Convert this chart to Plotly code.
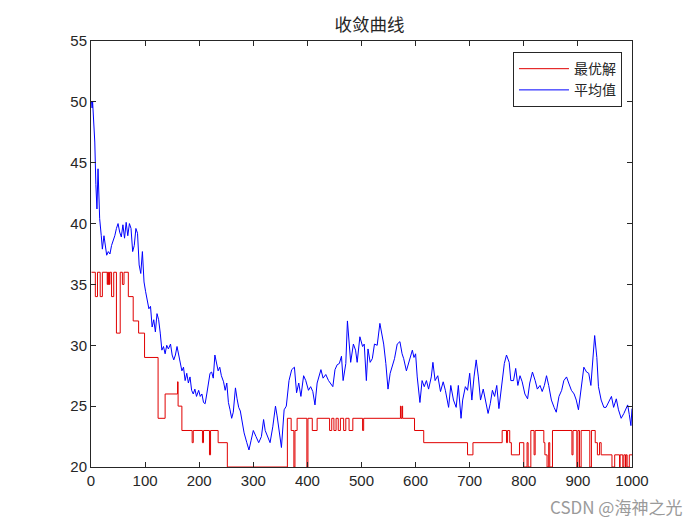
import plotly.graph_objects as go

# ---- data ----
avg_iter = [1, 2, 3, 5, 7, 9, 11, 13, 14, 16, 19, 21, 24, 26, 29, 32, 35, 38, 41, 44, 47, 50, 53, 56, 59,
            62, 65, 68, 71, 74, 77, 80, 83, 86, 89, 92, 95, 98, 101, 104, 107, 110, 113, 116, 119, 122, 125,
            128, 131, 134, 137, 140, 143, 147, 150, 153, 156, 159, 162, 165, 168, 171, 174, 177, 180, 183,
            186, 189, 192, 195, 199, 202, 205, 208, 211, 214, 217, 220, 223, 226, 229, 232, 235, 238, 241,
            245, 248, 251, 254, 257, 260, 263, 267, 270, 273, 276, 279, 283, 288, 292, 296, 300, 305, 310,
            315, 319, 322, 327, 331, 336, 341, 344, 349, 352, 357, 361, 366, 371, 376, 380, 384, 388, 393,
            397, 402, 406, 410, 414, 418, 425, 429, 434, 439, 443, 447, 451, 455, 459, 463, 466, 471, 474,
            477, 480, 485, 489, 492, 497, 502, 505, 509, 512, 516, 520, 524, 529, 534, 538, 541, 545, 549,
            553, 557, 561, 566, 571, 575, 578, 583, 587, 591, 594, 597, 600, 603, 608, 612, 616, 620, 624,
            629, 632, 636, 641, 646, 651, 655, 661, 665, 670, 675, 679, 684, 687, 692, 696, 700, 704, 708,
            712, 716, 720, 725, 729, 734, 738, 742, 746, 750, 754, 759, 764, 768, 773, 776, 781, 785, 789,
            793, 797, 802, 807, 811, 816, 821, 825, 830, 834, 838, 842, 846, 851, 856, 860, 865, 870, 874,
            879, 883, 888, 893, 897, 901, 906, 911, 916, 920, 924, 928, 931, 935, 938, 943, 948, 952, 957,
            962, 966, 971, 975, 980, 985, 989, 992, 995, 998, 1000]
avg_val = [50.0, 49.5, 50.0, 48.6, 46.7, 43.2, 41.2, 44.5, 42.9, 40.4, 39.0, 37.9, 39.0, 38.2, 37.4, 37.7,
           37.5, 38.2, 38.6, 39.0, 39.6, 40.0, 39.3, 38.9, 39.9, 38.8, 40.1, 39.0, 40.0, 39.6, 37.7, 38.2,
           39.6, 39.2, 36.6, 35.9, 37.7, 35.2, 34.4, 33.5, 33.0, 33.2, 31.5, 32.1, 31.1, 32.6, 32.1, 31.0,
           29.6, 29.9, 29.3, 30.0, 29.7, 30.1, 29.2, 28.8, 29.2, 29.9, 29.2, 28.5, 27.9, 28.2, 27.1, 27.7,
           26.9, 27.4, 26.3, 26.0, 26.4, 25.8, 26.3, 25.8, 26.0, 25.3, 25.2, 26.0, 27.1, 27.7, 27.8, 27.3,
           29.2, 28.5, 27.9, 28.2, 27.5, 27.0, 26.3, 26.9, 25.3, 24.7, 24.0, 24.5, 26.5, 25.6, 24.9, 24.6,
           23.9, 22.8, 22.0, 21.4, 22.2, 23.0, 22.5, 22.0, 22.5, 23.9, 23.0, 22.5, 22.0, 23.3, 25.0, 24.2,
           22.5, 21.6, 24.7, 25.0, 27.1, 28.0, 28.2, 26.1, 26.9, 25.8, 27.5, 27.1, 26.3, 26.6, 26.2, 25.1,
           26.9, 28.0, 27.3, 27.6, 27.1, 26.8, 26.6, 28.0, 28.4, 28.5, 29.1, 27.1, 28.5, 32.0, 30.1, 28.6,
           30.1, 29.6, 28.6, 30.7, 29.9, 30.1, 27.1, 29.7, 28.6, 28.9, 30.1, 30.0, 31.8, 30.7, 30.1, 28.5,
           26.4, 27.7, 28.4, 28.9, 30.1, 30.3, 29.3, 28.9, 27.9, 28.5, 29.0, 29.6, 29.0, 29.3, 27.4, 25.3,
           27.1, 26.6, 27.1, 26.4, 27.4, 28.6, 27.1, 27.5, 26.2, 27.0, 26.3, 24.9, 26.7, 25.5, 24.9, 26.7,
           24.0, 25.5, 26.6, 26.3, 27.7, 25.5, 27.4, 28.8, 27.4, 25.5, 26.4, 25.5, 24.4, 25.2, 26.3, 25.8,
           26.7, 24.8, 26.6, 28.5, 29.2, 28.6, 27.1, 27.1, 28.1, 26.7, 27.5, 27.0, 26.0, 25.6, 26.9, 27.8,
           27.1, 26.4, 26.7, 26.2, 26.7, 27.5, 26.7, 25.5, 24.9, 24.5, 25.8, 26.3, 27.1, 27.4, 26.9, 26.3,
           26.0, 25.5, 24.7, 26.3, 28.2, 27.8, 27.7, 26.7, 29.0, 30.8, 29.0, 26.6, 25.5, 24.9, 24.9, 25.3,
           25.8, 24.9, 25.6, 24.7, 24.0, 24.4, 24.9, 25.1, 24.3, 23.4, 24.8]

best_iter = [1, 8, 12, 17, 21, 30, 31, 32, 33, 34, 35, 38, 42, 47, 54, 58, 61, 69, 78, 88, 99, 124, 137,
             160, 161, 162, 168, 187, 189, 206, 208, 219, 221, 235, 252, 363, 370, 375, 377, 381, 399,
             401, 409, 418, 441, 445, 449, 453, 457, 461, 467, 471, 477, 484, 502, 504, 572, 573, 575,
             576, 598, 615, 696, 706, 760, 768, 770, 774, 777, 792, 800, 806, 808, 813, 819, 821, 837,
             839, 843, 846, 848, 853, 889, 891, 898, 900, 903, 906, 922, 925, 932, 936, 940, 943, 963,
             968, 977, 978, 983, 985, 988, 989, 991, 995, 1000]
best_val = [36, 34, 36, 34, 36, 35, 36, 35, 36, 35, 36, 34, 36, 31, 36, 35, 36, 34, 32, 31, 29, 24, 26,
            27, 25, 25, 23, 22, 23, 22, 23, 21, 23, 22, 20, 24, 23, 20, 23, 24, 20,
            24, 23, 24, 23, 24, 23, 24, 23, 24, 23, 24, 23, 24, 23, 24, 25, 24, 25,
            24, 23, 22, 21, 22, 23, 22, 23, 22, 21, 22, 20, 22, 20, 23, 21, 23, 22,
            21, 20, 22, 20, 23, 21, 23, 20, 23, 20, 23, 20, 23, 22, 21, 22, 21, 20,
            21, 20, 21, 20, 21, 20, 21, 20, 21, 21]

x_ticks = [0, 100, 200, 300, 400, 500, 600, 700, 800, 900, 1000]
y_ticks = [20, 25, 30, 35, 40, 45, 50, 55]

fig = go.Figure()
fig.add_trace(go.Scatter(x=best_iter, y=best_val, mode="lines", name="最优解",
                         line=dict(color="#e00000", width=1, shape="hv")))
fig.add_trace(go.Scatter(x=avg_iter, y=avg_val, mode="lines", name="平均值",
                         line=dict(color="#0000ff", width=1)))

axis_common = dict(showline=True, linecolor="#262626", linewidth=1, mirror="ticks",
                   ticks="inside", ticklen=5, tickcolor="#262626", showgrid=False, zeroline=False,
                   tickfont=dict(family="Liberation Sans, Arial, sans-serif", size=15, color="#262626"))

fig.update_layout(
    width=700, height=525,
    paper_bgcolor="white", plot_bgcolor="white",
    margin=dict(l=83, r=76, t=33, b=66),
    title=dict(text="收敛曲线", x=0.5165, xanchor="center", y=0.9676, yanchor="middle",
               font=dict(family="Noto Sans CJK SC", size=17.5, color="#262626")),
    xaxis=dict(range=[0, 1000], tickvals=x_ticks, **axis_common),
    yaxis=dict(range=[20, 55], tickvals=y_ticks, **axis_common),
    legend=dict(x=0.9815, y=0.974, xanchor="right", yanchor="top", bgcolor="white",
                bordercolor="#262626", borderwidth=1, tracegroupgap=0, itemwidth=50,
                font=dict(family="Noto Sans CJK SC", size=14, color="#262626")),
    showlegend=True,
)

fig.add_annotation(text="CSDN @海神之光", xref="paper", yref="paper", x=1.096, y=-0.092,
                   xanchor="right", yanchor="middle", showarrow=False,
                   font=dict(family="Noto Sans CJK SC", size=17, color="#9a9a9a"))

fig.write_html("out.html")
